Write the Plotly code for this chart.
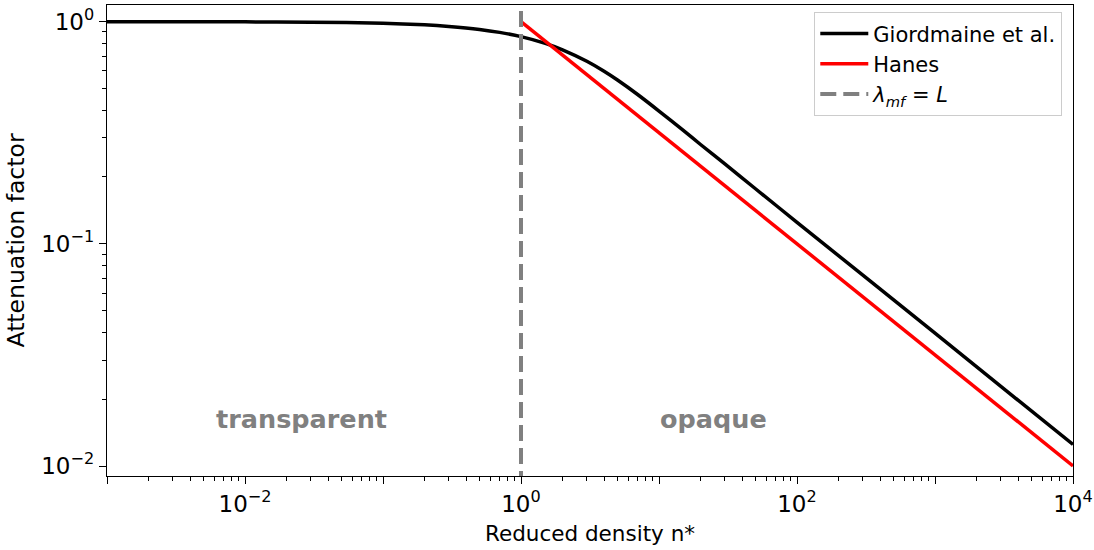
import math
import plotly.graph_objects as go

# Reduced density n* and attenuation factor
giordmaine_n = [0.001, 0.01, 0.03, 0.1, 0.2, 0.3, 0.5, 0.7, 1.0, 1.5, 2.0, 3.0,
                4.0, 5.0, 7.0, 10.0, 15.0, 20.0, 30.0, 50.0, 100.0, 1000.0, 10000.0]
giordmaine_att = [1.000, 0.998, 0.995, 0.984, 0.968, 0.952, 0.923, 0.895, 0.856,
                  0.798, 0.747, 0.663, 0.598, 0.546, 0.470, 0.396, 0.324, 0.280,
                  0.229, 0.177, 0.125, 0.0396, 0.0125]

hanes_n = [1.0, 10000.0]
hanes_att = [1.0, 0.01]

# Mean free path equals cell length at n* = 1
threshold_n = [1.0, 1.0]
threshold_att = [0.005, 2.0]

regions = ["transparent", "opaque"]
region_n = [0.0257, 24.8]
region_att = [0.0163, 0.0163]

x_major = [10.0 ** k for k in range(-3, 5)]
x_major_text = ["", "10<sup>−2</sup>", "", "10<sup>0</sup>", "", "10<sup>2</sup>", "", "10<sup>4</sup>"]
x_minor = [m * 10.0 ** k for k in range(-3, 4) for m in range(2, 10)]
y_major = [0.01, 0.1, 1.0]
y_major_text = ["10<sup>−2</sup>", "10<sup>−1</sup>", "10<sup>0</sup>"]
y_minor = [m * 10.0 ** k for k in range(-3, 0) for m in range(2, 10)]

FONT = "DejaVu Sans"

fig = go.Figure()
fig.add_trace(go.Scatter(x=giordmaine_n, y=giordmaine_att, mode="lines",
                         name="Giordmaine et al.",
                         line=dict(color="black", width=3.5, shape="spline", smoothing=0.6)))
fig.add_trace(go.Scatter(x=hanes_n, y=hanes_att, mode="lines",
                         name="Hanes", line=dict(color="red", width=3.5)))
fig.add_trace(go.Scatter(x=threshold_n, y=threshold_att, mode="lines",
                         name="<i>λ<sub>mf</sub></i> = <i>L</i>",
                         line=dict(color="gray", width=4, dash="16px,7px")))

# Region labels (annotation positions on log axes are given in log10 units)
for label, xn, ya in zip(regions, region_n, region_att):
    fig.add_annotation(x=math.log10(xn), y=math.log10(ya), xref="x", yref="y",
                       text=f"<b>{label}</b>", showarrow=False,
                       font=dict(family=FONT, size=25.5, color="gray"),
                       xanchor="center", yanchor="middle")

axis_common = dict(
    type="log", showgrid=False, zeroline=False, showline=True, linecolor="black",
    linewidth=1.3, mirror=True, ticks="outside", ticklen=7, tickwidth=1.2,
    tickcolor="black", tickfont=dict(family=FONT, size=23, color="black"),
    automargin=False,
)

fig.update_xaxes(
    **axis_common, range=[-3, 4], tickmode="array", tickvals=x_major, ticktext=x_major_text,
    minor=dict(tickmode="array", tickvals=x_minor, ticks="outside", ticklen=4,
               tickwidth=1, tickcolor="black", showgrid=False),
    title=dict(text="Reduced density n*", font=dict(family=FONT, size=21.5, color="black"), standoff=10),
)
fig.update_yaxes(
    **axis_common, range=[-2.045, 0.075], tickmode="array", tickvals=y_major, ticktext=y_major_text,
    minor=dict(tickmode="array", tickvals=y_minor, ticks="outside", ticklen=4,
               tickwidth=1, tickcolor="black", showgrid=False),
    title=dict(text="Attenuation factor", font=dict(family=FONT, size=23.5, color="black"), standoff=10),
)

fig.update_layout(
    width=1094, height=550,
    margin=dict(l=107, r=21, t=5, b=74),
    paper_bgcolor="white", plot_bgcolor="white",
    font=dict(family=FONT, color="black"),
    legend=dict(x=0.9886, y=0.985, xanchor="right", yanchor="top",
                bgcolor="white", bordercolor="#cccccc", borderwidth=1.3,
                font=dict(family=FONT, size=21, color="black"),
                tracegroupgap=0, itemwidth=48),
)

fig.write_html("out.html")
